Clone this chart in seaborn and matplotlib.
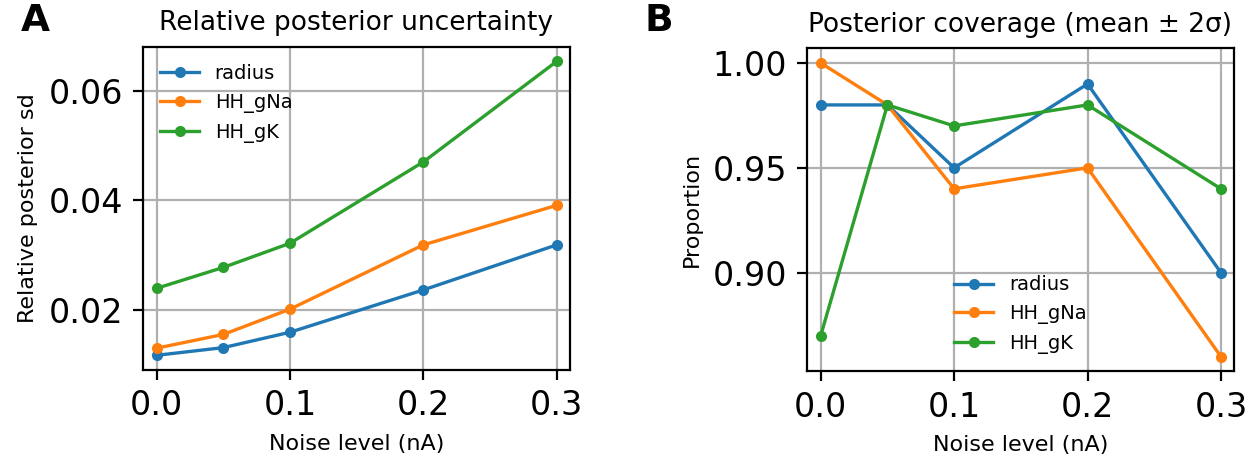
import numpy as np
import pandas as pd
import matplotlib
matplotlib.use("Agg")
import matplotlib.pyplot as plt
import seaborn as sns

# Noise levels (nA) and per-parameter results
noise = [0.0, 0.05, 0.1, 0.2, 0.3]
params = ["radius", "HH_gNa", "HH_gK"]

rel_sd_radius = [0.0118, 0.0132, 0.0160, 0.0237, 0.0319]
rel_sd_gna = [0.0131, 0.0156, 0.0202, 0.0319, 0.0391]
rel_sd_gk = [0.0240, 0.0278, 0.0322, 0.0470, 0.0653]

cov_radius = [0.98, 0.98, 0.95, 0.99, 0.90]
cov_gna = [1.00, 0.98, 0.94, 0.95, 0.86]
cov_gk = [0.87, 0.98, 0.97, 0.98, 0.94]

xticks = [0.0, 0.1, 0.2, 0.3]
colors = ["#1f77b4", "#ff7f0e", "#2ca02c"]


def long_frame(series):
    rows = []
    for name, vals in zip(params, series):
        for x, v in zip(noise, vals):
            rows.append({"noise": x, "value": v, "parameter": name})
    return pd.DataFrame(rows)


sd_df = long_frame([rel_sd_radius, rel_sd_gna, rel_sd_gk])
cov_df = long_frame([cov_radius, cov_gna, cov_gk])

fig = plt.figure(figsize=(6.28, 2.335), dpi=200)
W, H = 1256, 467
axA = fig.add_axes([142.7 / W, 1 - 370 / H, (570 - 142.7) / W, (370 - 46.7) / H])
axB = fig.add_axes([806.7 / W, 1 - 371.3 / H, (1234.3 - 806.7) / W, (371.3 - 48.3) / H])


def draw(ax, df):
    for name, c in zip(params, colors):
        sub = df[df["parameter"] == name]
        sns.lineplot(data=sub, x="noise", y="value", ax=ax, color=c, label=name,
                     marker="o", markersize=4, markeredgecolor=c,
                     markeredgewidth=0, linewidth=1.2)
    ax.grid(True, color="#b0b0b0", linewidth=0.8)
    ax.set_xticks(xticks)
    ax.set_xlim(-0.0105, 0.31)
    ax.tick_params(labelsize=12, width=0.8, length=3.5)
    for s in ax.spines.values():
        s.set_linewidth(0.8)
        s.set_color("black")
    ax.set_xlabel("Noise level (nA)", fontsize=8)


draw(axA, sd_df)
axA.set_yticks([0.02, 0.04, 0.06])
axA.set_ylabel("Relative posterior sd", fontsize=8)
axA.set_title("Relative posterior uncertainty", fontsize=9.5)
axA.legend(loc="upper left", frameon=False, fontsize=7)

draw(axB, cov_df)
axB.set_yticks([0.90, 0.95, 1.00])
axB.set_yticklabels(["0.90", "0.95", "1.00"])
axB.set_ylabel("Proportion", fontsize=8)
axB.set_title("Posterior coverage (mean ± 2σ)", fontsize=9.5)
axB.legend(loc="lower center", frameon=False, fontsize=7)

fig.text(20.7 / W, 1 - 2.7 / H, "A", fontsize=13.5, fontweight="bold", va="top", ha="left")
fig.text(645 / W, 1 - 2.7 / H, "B", fontsize=13.5, fontweight="bold", va="top", ha="left")

fig.savefig("out.png", dpi=200)
